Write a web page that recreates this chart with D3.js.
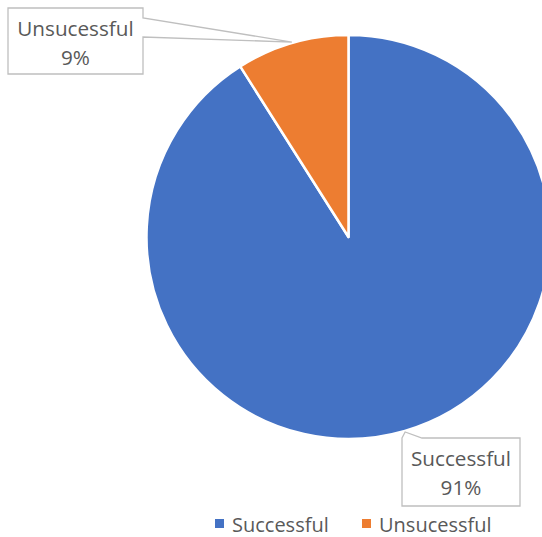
<!DOCTYPE html>
<html>
<head>
<meta charset="utf-8">
<script src="https://cdn.jsdelivr.net/npm/d3@7"></script>
<style>
  html, body { margin: 0; padding: 0; background: #fff; }
  svg { display: block; }
  text { font-family: "Open Sans", "Liberation Sans", sans-serif; fill: #595959; }
</style>
</head>
<body>
<svg id="chart" width="542" height="537"></svg>
<script>
const categories = ["Successful", "Unsucessful"];
const values = [91, 9];
const percentLabels = ["91%", "9%"];
const colors = ["#4472C4", "#ED7D31"];

const svg = d3.select("#chart");
const cx = 348.5, cy = 237, R = 202;

const pie = d3.pie().sort(null).value(d => d.value);
const data = categories.map((c, i) => ({ name: c, value: values[i], label: percentLabels[i], color: colors[i] }));
const arcs = pie(data);
const arc = d3.arc().innerRadius(0).outerRadius(R);
const edge = d3.arc().innerRadius(R + 1).outerRadius(R + 1);

const g = svg.append("g").attr("transform", `translate(${cx},${cy})`);
g.selectAll("path.slice").data(arcs).enter().append("path")
  .attr("class", "slice")
  .attr("d", arc)
  .attr("fill", d => d.data.color)
  .attr("stroke", "#fff")
  .attr("stroke-width", 2.5)
  .attr("stroke-linejoin", "round");

// callout boxes (layout positions)
const boxes = {
  "Unsucessful": { x0: 8, y0: 8, x1: 143, y1: 74, side: "right", a: 18, b: 37 },
  "Successful": { x0: 402, y0: 438, x1: 520, y1: 506, side: "top", a: 402, b: 422 }
};

arcs.forEach(d => {
  const bx = boxes[d.data.name];
  const c = edge.centroid(d);
  const tx = cx + c[0], ty = cy + c[1];
  let p;
  if (bx.side === "right") {
    p = `M${bx.x0},${bx.y0}H${bx.x1}V${bx.a}L${tx},${ty}L${bx.x1},${bx.b}V${bx.y1}H${bx.x0}Z`;
  } else {
    p = `M${bx.x0},${bx.y0}L${tx},${ty}L${bx.b},${bx.y0}H${bx.x1}V${bx.y1}H${bx.x0}Z`;
  }
  svg.append("path").attr("d", p)
    .attr("fill", "#fff").attr("stroke", "#BFBFBF").attr("stroke-width", 1.3);
  const mx = (bx.x0 + bx.x1) / 2;
  const t = svg.append("text").attr("text-anchor", "middle").attr("font-size", 20.7);
  t.append("tspan").attr("x", mx).attr("y", bx.y0 + 28).text(d.data.name);
  t.append("tspan").attr("x", mx).attr("y", bx.y0 + 57).text(d.data.label);
});

// legend
const legendX = [215, 362];
const leg = svg.selectAll("g.leg").data(data).enter().append("g").attr("class", "leg")
  .attr("transform", (d, i) => `translate(${legendX[i]},519)`);
leg.append("rect").attr("width", 9).attr("height", 9).attr("fill", d => d.color);
leg.append("text").attr("x", 17).attr("y", 13).attr("font-size", 20).text(d => d.name);
</script>
</body>
</html>
